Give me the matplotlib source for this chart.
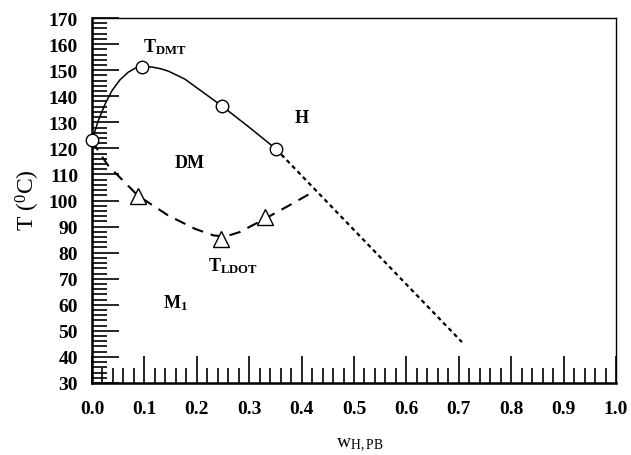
import matplotlib
matplotlib.use("Agg")
import matplotlib.pyplot as plt
from matplotlib.ticker import MultipleLocator, FormatStrFormatter

plt.rcParams["font.family"] = ["Liberation Serif", "DejaVu Serif"]
plt.rcParams["mathtext.fontset"] = "custom"
plt.rcParams["mathtext.rm"] = "Liberation Serif"
plt.rcParams["mathtext.it"] = "Liberation Serif:italic"
plt.rcParams["mathtext.bf"] = "Liberation Serif:bold"

# Measured transition points
dmt_w = [0.0, 0.096, 0.249, 0.351]
dmt_T = [123.1, 151.3, 136.1, 119.8]
ldot_w = [0.088, 0.247, 0.330]
ldot_T = [101.8, 85.2, 93.5]

# Traced boundary curves
upper_w = [0.0, 0.012, 0.025, 0.038, 0.053, 0.069, 0.083, 0.096, 0.114,
           0.130, 0.146, 0.177, 0.212, 0.249, 0.300, 0.351]
upper_T = [123.1, 130.6, 137.0, 142.1, 146.2, 149.2, 150.8, 151.3, 151.2,
           150.6, 149.6, 146.6, 141.5, 136.1, 128.1, 119.8]
lower_w = [0.0, 0.015, 0.031, 0.050, 0.088, 0.146, 0.197, 0.232, 0.255,
           0.282, 0.330, 0.378, 0.428]
lower_T = [123.1, 118.0, 113.4, 109.5, 101.8, 94.2, 89.1, 86.6, 86.2,
           87.9, 93.0, 98.3, 104.0]
extrap_w = [0.351, 0.706]
extrap_T = [119.8, 45.7]

fig = plt.figure(figsize=(6.31, 4.56), dpi=100)
ax = fig.add_axes([0.1458, 0.1579, 0.8304, 0.8004])

ax.plot(upper_w, upper_T, color="black", lw=1.1, zorder=2)
ax.plot(lower_w, lower_T, color="black", lw=1.5, dashes=(5.5, 3.8), zorder=2)
ax.plot(extrap_w, extrap_T, color="black", lw=1.6, dashes=(1.9, 1.6), zorder=2)

ax.plot(dmt_w, dmt_T, linestyle="none", marker="o", markersize=9,
        markerfacecolor="white", markeredgecolor="black", markeredgewidth=1.0,
        zorder=4, clip_on=False)
ax.plot(ldot_w, ldot_T, linestyle="none", marker="^", markersize=11,
        markerfacecolor="white", markeredgecolor="black", markeredgewidth=1.0,
        zorder=4)

lbl = dict(fontsize=13, color="black", va="baseline", ha="left")
ax.text(0.097, 157.3, r"$\mathbf{T_{DMT}}$", **lbl)
ax.text(0.222, 73.1, r"$\mathbf{T_{LDOT}}$", **lbl)
ax.text(0.156, 112.7, r"$\mathbf{DM}$", **lbl)
ax.text(0.386, 130.0, r"$\mathbf{H}$", **lbl)
ax.text(0.136, 59.0, r"$\mathbf{M_1}$", **lbl)

ax.set_xlim(0.0, 1.0)
ax.set_ylim(30, 170)
ax.xaxis.set_major_locator(MultipleLocator(0.1))
ax.xaxis.set_minor_locator(MultipleLocator(0.02))
ax.yaxis.set_major_locator(MultipleLocator(10))
ax.yaxis.set_minor_locator(MultipleLocator(2))
ax.xaxis.set_major_formatter(FormatStrFormatter("%.1f"))

ax.tick_params(which="both", direction="in", top=False, right=False,
               width=1.2, color="black")
ax.tick_params(which="major", length=19.5, pad=10)
ax.tick_params(which="minor", length=10.8)
ax.tick_params(axis="x", which="major", pad=12)
for t in ax.get_xticklabels() + ax.get_yticklabels():
    t.set_fontweight("bold")
    t.set_fontsize(14)

ax.spines["left"].set_linewidth(1.8)
ax.spines["bottom"].set_linewidth(1.8)
ax.spines["top"].set_linewidth(1.0)
ax.spines["right"].set_linewidth(1.0)

fig.text(360 / 631, 1 - 445 / 456, r"w$_{\mathrm{H,PB}}$", fontsize=14,
         ha="center", va="center")
fig.text(28 / 631, 1 - 200 / 456, r"T ($^{0}$C)", fontsize=17,
         ha="center", va="center", rotation=90)

fig.savefig("out.png", dpi=100)
